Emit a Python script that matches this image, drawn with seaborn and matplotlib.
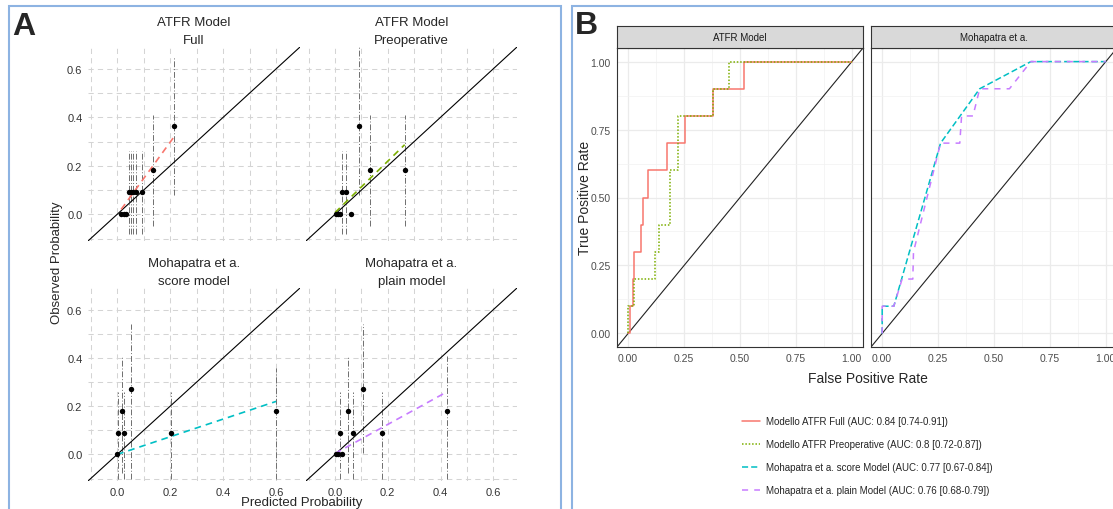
import numpy as np
import matplotlib
matplotlib.use("Agg")
import matplotlib.pyplot as plt
import seaborn as sns
from matplotlib.patches import Rectangle

sns.set_style("white")
plt.rcParams["font.family"] = ["Liberation Sans", "DejaVu Sans"]

nan = np.nan

# -------------------------
# Panel A: Kalibrierung
# -------------------------
full_pred = [0.015, 0.025, 0.035, 0.046, 0.051, 0.059, 0.071, 0.094, 0.135, 0.215]
full_obs = [0, 0, 0, 0.091, 0.091, 0.091, 0.091, 0.091, 0.182, 0.364]
full_lo = [nan, nan, nan, -0.08, -0.08, -0.08, -0.08, -0.08, -0.05, 0.08]
full_hi = [nan, nan, nan, 0.26, 0.26, 0.26, 0.26, 0.26, 0.41, 0.65]
full_fit_x = [0.015, 0.215]
full_fit_y = [0.02, 0.32]

preop_pred = [0.003, 0.01, 0.018, 0.028, 0.04, 0.06, 0.09, 0.134, 0.264]
preop_obs = [0, 0, 0, 0.091, 0.091, 0, 0.364, 0.182, 0.182]
preop_lo = [nan, nan, nan, -0.08, -0.08, nan, 0.08, -0.05, -0.05]
preop_hi = [nan, nan, nan, 0.26, 0.26, nan, 0.69, 0.41, 0.41]
preop_fit_x = [0.0, 0.264]
preop_fit_y = [0.007, 0.287]

score_pred = [0.0, 0.004, 0.02, 0.025, 0.053, 0.204, 0.598]
score_obs = [0, 0.091, 0.182, 0.091, 0.273, 0.091, 0.182]
score_lo = [nan, -0.1, -0.076, -0.1, -0.1, -0.1, -0.1]
score_hi = [nan, 0.26, 0.41, 0.26, 0.54, 0.26, 0.36]
score_fit_x = [0.0, 0.6]
score_fit_y = [0.0, 0.22]

plain_pred = [0.003, 0.012, 0.025, 0.02, 0.051, 0.069, 0.108, 0.178, 0.425]
plain_obs = [0, 0, 0, 0.091, 0.182, 0.091, 0.273, 0.091, 0.182]
plain_lo = [nan, nan, nan, -0.1, -0.076, -0.1, 0.007, -0.1, -0.1]
plain_hi = [nan, nan, nan, 0.26, 0.41, 0.26, 0.54, 0.26, 0.41]
plain_fit_x = [0.0, 0.425]
plain_fit_y = [0.004, 0.26]

# -------------------------
# Panel B: ROC-Kurven
# -------------------------
full_fpr = [0, 0.01, 0.01, 0.02, 0.02, 0.027, 0.027, 0.056, 0.056, 0.067, 0.067, 0.089, 0.089,
            0.175, 0.175, 0.256, 0.256, 0.38, 0.38, 0.52, 0.52, 1.0]
full_tpr = [0, 0, 0.1, 0.1, 0.2, 0.2, 0.3, 0.3, 0.4, 0.4, 0.5, 0.5, 0.6,
            0.6, 0.7, 0.7, 0.8, 0.8, 0.9, 0.9, 1.0, 1.0]
preop_fpr = [0, 0, 0.027, 0.027, 0.118, 0.118, 0.138, 0.138, 0.185, 0.185, 0.223, 0.223,
             0.38, 0.38, 0.45, 0.45, 1.0]
preop_tpr = [0, 0.1, 0.1, 0.2, 0.2, 0.3, 0.3, 0.4, 0.4, 0.6, 0.6, 0.8,
             0.8, 0.9, 0.9, 1.0, 1.0]
score_fpr = [0, 0, 0.052, 0.261, 0.436, 0.665, 1.0]
score_tpr = [0, 0.1, 0.1, 0.7, 0.9, 1.0, 1.0]
plain_fpr = [0, 0, 0.052, 0.089, 0.137, 0.14, 0.261, 0.347, 0.355, 0.406, 0.436, 0.569, 0.665, 1.0]
plain_tpr = [0, 0.1, 0.1, 0.2, 0.2, 0.3, 0.7, 0.7, 0.8, 0.8, 0.9, 0.9, 1.0, 1.0]

roc_labels = ["Modello ATFR Full (AUC: 0.84 [0.74-0.91])",
              "Modello ATFR Preoperative (AUC: 0.8 [0.72-0.87])",
              "Mohapatra et a. score Model (AUC: 0.77 [0.67-0.84])",
              "Mohapatra et a. plain Model (AUC: 0.76 [0.68-0.79])"]
roc_colors = ["#F8766D", "#7CAE00", "#00BFC4", "#C77CFF"]

W, H = 1113, 510
fig = plt.figure(figsize=(W / 100, H / 100), dpi=100)


def px_axes(left, top, right, bottom):
    return fig.add_axes([left / W, 1 - bottom / H, (right - left) / W, (bottom - top) / H])


def calib_panel(ax, pred, obs, lo, hi, fit_x, fit_y, color, title, show_y, show_x):
    ax.set_xlim(-0.11, 0.69)
    ax.set_ylim(-0.11, 0.69)
    ax.set_xticks([0, 0.2, 0.4, 0.6])
    ax.set_yticks([0, 0.2, 0.4, 0.6])
    ax.set_xticks([-0.1, 0.1, 0.3, 0.5], minor=True)
    ax.set_yticks([-0.1, 0.1, 0.3, 0.5], minor=True)
    ax.grid(True, which="both", color="#d4d4d4", linestyle=(0, (5, 4)), linewidth=0.75)
    ax.set_axisbelow(True)
    for s in ax.spines.values():
        s.set_visible(False)
    ax.vlines(pred, lo, hi, colors="#6e6e6e", linestyles=[(0, (6, 2, 1, 2))], linewidth=0.7, zorder=2)
    ax.axline((0, 0), slope=1, color="black", linewidth=0.8, zorder=3)
    sns.lineplot(x=fit_x, y=fit_y, ax=ax, color=color, linestyle=(0, (4, 3)), linewidth=1.2, zorder=4)
    sns.scatterplot(x=pred, y=obs, ax=ax, color="black", s=15, linewidth=0, zorder=5)
    ax.set_title(title, fontsize=9.5, linespacing=1.6, pad=3)
    ax.tick_params(which="both", length=0, labelsize=8, labelcolor="#333333", pad=4)
    fmt = lambda v: f"{v:.1f}"
    ax.set_xticklabels([fmt(v) for v in [0, 0.2, 0.4, 0.6]] if show_x else [])
    ax.set_yticklabels([fmt(v) for v in [0, 0.2, 0.4, 0.6]] if show_y else [])
    ax.set_xlabel("")
    ax.set_ylabel("")


ax_tl = px_axes(88, 48, 300, 242)
ax_tr = px_axes(306, 48, 517, 242)
ax_bl = px_axes(88, 289, 300, 482)
ax_br = px_axes(306, 289, 517, 482)

calib_panel(ax_tl, full_pred, full_obs, full_lo, full_hi, full_fit_x, full_fit_y,
            roc_colors[0], "ATFR Model\nFull", True, False)
calib_panel(ax_tr, preop_pred, preop_obs, preop_lo, preop_hi, preop_fit_x, preop_fit_y,
            roc_colors[1], "ATFR Model\nPreoperative", False, False)
calib_panel(ax_bl, score_pred, score_obs, score_lo, score_hi, score_fit_x, score_fit_y,
            roc_colors[2], "Mohapatra et a.\nscore model", True, True)
calib_panel(ax_br, plain_pred, plain_obs, plain_lo, plain_hi, plain_fit_x, plain_fit_y,
            roc_colors[3], "Mohapatra et a.\nplain model", False, True)

fig.text(57 / W, 1 - 263 / H, "Observed Probability", rotation=90, ha="center", va="center", fontsize=9.5)
fig.text(302 / W, 1 - 503 / H, "Predicted Probability", ha="center", va="center", fontsize=9.5)


# -------------------------
# Panel B: ROC-Facetten
# -------------------------
def roc_panel(left, right, strip_text, curves, show_y):
    ax = px_axes(left, 49, right, 348)
    strip = px_axes(left, 27, right, 49)
    strip.set_facecolor("#D9D9D9")
    strip.set_xticks([])
    strip.set_yticks([])
    for s in strip.spines.values():
        s.set_color("#333333")
        s.set_linewidth(0.8)
    strip.text(0.5, 0.5, strip_text, ha="center", va="center", fontsize=7, color="#1a1a1a",
               transform=strip.transAxes)

    ax.set_facecolor("white")
    ax.set_xlim(-0.05, 1.05)
    ax.set_ylim(-0.05, 1.05)
    ticks = [0, 0.25, 0.5, 0.75, 1.0]
    ax.set_xticks(ticks)
    ax.set_yticks(ticks)
    ax.set_xticks([0.125, 0.375, 0.625, 0.875], minor=True)
    ax.set_yticks([0.125, 0.375, 0.625, 0.875], minor=True)
    ax.grid(True, which="major", color="#EBEBEB", linewidth=0.9)
    ax.grid(True, which="minor", color="#F2F2F2", linewidth=0.5)
    ax.set_axisbelow(True)
    for s in ax.spines.values():
        s.set_color("#333333")
        s.set_linewidth(0.8)
    ax.axline((0, 0), slope=1, color="#222222", linewidth=0.8)
    for fpr, tpr, color, ls, lab in curves:
        sns.lineplot(x=fpr, y=tpr, ax=ax, color=color, linestyle=ls, linewidth=1.1,
                     sort=False, estimator=None, label=lab)
    ax.set_xticklabels(["0.00", "0.25", "0.50", "0.75", "1.00"])
    ax.set_yticklabels(["0.00", "0.25", "0.50", "0.75", "1.00"])
    ax.tick_params(which="major", length=2.5, color="#333333", labelsize=7.5, labelcolor="#4D4D4D", pad=2)
    ax.tick_params(which="minor", length=0)
    if not show_y:
        ax.tick_params(axis="y", left=False, labelleft=False)
    ax.set_xlabel("")
    ax.set_ylabel("")
    return ax


roc_l = roc_panel(617, 863, "ATFR Model",
                  [(full_fpr, full_tpr, roc_colors[0], "-", roc_labels[0]),
                   (preop_fpr, preop_tpr, roc_colors[1], (0, (1, 1.2)), roc_labels[1])], True)
roc_r = roc_panel(871, 1117, "Mohapatra et a.",
                  [(score_fpr, score_tpr, roc_colors[2], (0, (4, 2)), roc_labels[2]),
                   (plain_fpr, plain_tpr, roc_colors[3], (0, (4, 4)), roc_labels[3])], False)

handles, labels = [], []
for a in (roc_l, roc_r):
    h, l = a.get_legend_handles_labels()
    handles += h
    labels += l
    if a.get_legend() is not None:
        a.get_legend().remove()

fig.legend(handles, labels, loc="upper left", bbox_to_anchor=(742 / W, 1 - 417 / H),
           frameon=False, fontsize=7, handlelength=1.8, handletextpad=0.7,
           labelspacing=1.35, borderpad=0, borderaxespad=0)

fig.text(585 / W, 1 - 198 / H, "True Positive Rate", rotation=90, ha="center", va="center", fontsize=10)
fig.text(868 / W, 1 - 379 / H, "False Positive Rate", ha="center", va="center", fontsize=10)

# Rahmen und Panel-Buchstaben
frame_col = "#8DB3E2"
fig.add_artist(Rectangle((8.5 / W, -0.05), (561.5 - 8.5) / W, 1 - 7 / H + 0.05,
                         transform=fig.transFigure, fill=False, edgecolor=frame_col, linewidth=1.5))
fig.add_artist(Rectangle((571.5 / W, -0.05), 0.6, 1 - 7 / H + 0.05,
                         transform=fig.transFigure, fill=False, edgecolor=frame_col, linewidth=1.5))
fig.text(12 / W, 1 - 12 / H, "A", fontsize=23, fontweight="bold", ha="left", va="top")
fig.text(575 / W, 1 - 11 / H, "B", fontsize=23, fontweight="bold", ha="left", va="top")

plt.savefig("out.png", dpi=100)
plt.close()
